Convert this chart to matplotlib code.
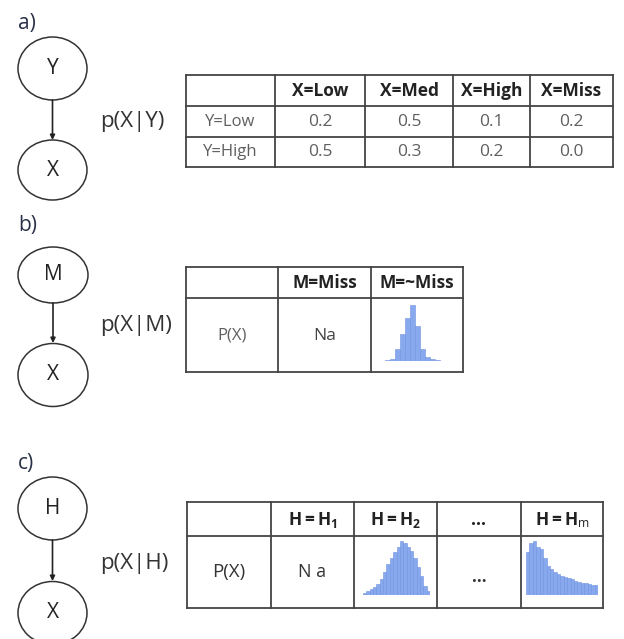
import matplotlib
matplotlib.use('Agg')
import matplotlib.pyplot as plt
from matplotlib.patches import Ellipse

plt.rcParams['font.family'] = ['Open Sans', 'DejaVu Sans']
plt.rcParams['mathtext.fontset'] = 'custom'
plt.rcParams['mathtext.rm'] = 'Open Sans'
plt.rcParams['mathtext.bf'] = 'Open Sans:bold'
plt.rcParams['mathtext.it'] = 'Open Sans:italic'

# ДАННЫЕ
panel_labels = ['a)', 'b)', 'c)']
parent_nodes = ['Y', 'M', 'H']
cond_labels = ['p(X|Y)', 'p(X|M)', 'p(X|H)']

tab_a_cols = ['X=Low', 'X=Med', 'X=High', 'X=Miss']
tab_a_rows = ['Y=Low', 'Y=High']
tab_a_vals = [[0.2, 0.5, 0.1, 0.2],
              [0.5, 0.3, 0.2, 0.0]]

tab_b_cols = ['M=Miss', 'M=~Miss']
tab_c_cols = [r'$\mathbf{H{=}H_1}$', r'$\mathbf{H{=}H_2}$', '...', r'$\mathbf{H{=}H}_\mathrm{m}$']
row_px = 'P(X)'

# гистограммы (высота столбцов, относительные единицы)
hist_m = [0.4, 0.6, 1.7, 11.7, 27, 43, 56, 35, 12, 4, 1.7, 0.8, 0.5, 0.4, 0.3, 0.3]
hist_h2 = [1.7, 3.7, 6, 8.3, 11, 16, 22.7, 31, 37, 42.7, 48.3, 53.7, 51.7, 48.3,
           44.3, 37, 27.7, 19.3, 9.3, 3.7]
hist_hm = [42.7, 51.7, 54.3, 47.7, 46, 37, 29.3, 26, 22.7, 21, 19.3, 18.3, 17,
           15.7, 14.3, 13.3, 12.3, 11.7, 11, 10.3, 10]

W, H = 624, 639
line_c = '#444444'
text_c = '#222222'
gray_c = '#5f5f5f'
bar_c = '#88a9ee'
bar_e = '#6f92df'

fig = plt.figure(figsize=(W / 100, H / 100), dpi=100)
ax = fig.add_axes([0, 0, 1, 1])
ax.set_xlim(0, W)
ax.set_ylim(H, 0)
ax.axis('off')


def node(x, y, w, h, label):
    ax.add_patch(Ellipse((x, y), w, h, fill=False, edgecolor='#333333', lw=1.1))
    ax.text(x, y, label, ha='center', va='center', fontsize=15, color=text_c)


def arrow(x, y0, y1):
    ax.annotate('', xy=(x, y1), xytext=(x, y0),
                arrowprops=dict(arrowstyle='-|>', color='#222222', lw=1.2,
                                mutation_scale=7, shrinkA=0, shrinkB=0))


def grid(xs, ys):
    for x in xs:
        ax.plot([x, x], [ys[0], ys[-1]], color=line_c, lw=1.3, solid_capstyle='projecting')
    for y in ys:
        ax.plot([xs[0], xs[-1]], [y, y], color=line_c, lw=1.3, solid_capstyle='projecting')


def hist_inset(vals, left, base, width):
    top = max(vals)
    ah = fig.add_axes([left / W, (H - base) / H, width / W, top / H])
    ah.bar(range(len(vals)), vals, width=1.0, color=bar_c, edgecolor=bar_e, linewidth=0.4)
    ah.set_xlim(-0.5, len(vals) - 0.5)
    ah.set_ylim(0, top)
    ah.axis('off')


# ПОДПИСИ ПАНЕЛЕЙ
for lab, y in zip(panel_labels, [23, 226, 464]):
    ax.text(18, y, lab, ha='left', va='center', fontsize=15, color='#283048')

# ГРАФЫ
node(52.5, 68.5, 69, 63, parent_nodes[0])
node(52.5, 170, 69, 60, 'X')
arrow(52.5, 100, 140)

node(53, 275, 70, 56, parent_nodes[1])
node(53, 375, 70, 63, 'X')
arrow(53, 303, 343)

node(52.5, 508.5, 69, 63, parent_nodes[2])
node(52.5, 613, 69, 63, 'X')
arrow(52.5, 540, 581)

for lab, y in zip(cond_labels, [122, 326, 564]):
    ax.text(100, y, lab, ha='left', va='center', fontsize=16, color='#333333')

# ТАБЛИЦА a
xa = [186, 275, 365, 453, 530, 613]
ya = [75, 106, 137, 167]
grid(xa, ya)
for j, c in enumerate(tab_a_cols):
    ax.text((xa[j + 1] + xa[j + 2]) / 2, (ya[0] + ya[1]) / 2, c, ha='center', va='center',
            fontsize=12.5, fontweight='bold', color=text_c)
for i, r in enumerate(tab_a_rows):
    yc = (ya[i + 1] + ya[i + 2]) / 2
    ax.text((xa[0] + xa[1]) / 2, yc, r, ha='center', va='center', fontsize=12, color=gray_c)
    for j, v in enumerate(tab_a_vals[i]):
        ax.text((xa[j + 1] + xa[j + 2]) / 2, yc, f'{v:.1f}', ha='center', va='center',
                fontsize=12.5, color=gray_c)

# ТАБЛИЦА b
xb = [186, 278, 371, 463]
yb = [267, 298, 372]
grid(xb, yb)
for j, c in enumerate(tab_b_cols):
    ax.text((xb[j + 1] + xb[j + 2]) / 2, (yb[0] + yb[1]) / 2, c, ha='center', va='center',
            fontsize=12.5, fontweight='bold', color=text_c)
ax.text((xb[0] + xb[1]) / 2, 336, row_px, ha='center', va='center', fontsize=12, color=gray_c)
ax.text((xb[1] + xb[2]) / 2, 336, 'Na', ha='center', va='center', fontsize=12.5, color='#444444')
hist_inset(hist_m, 380, 361, 80)

# ТАБЛИЦА c
xc = [187, 271, 354, 437, 521, 603]
yc_ = [502, 536, 608]
grid(xc, yc_)
for j, c in enumerate(tab_c_cols):
    ax.text((xc[j + 1] + xc[j + 2]) / 2, (yc_[0] + yc_[1]) / 2 + 1, c, ha='center', va='center',
            fontsize=12.5, fontweight='bold', color=text_c)
ax.text((xc[0] + xc[1]) / 2, 572, row_px, ha='center', va='center', fontsize=13.5, color='#333333')
ax.text((xc[1] + xc[2]) / 2, 572, 'N a', ha='center', va='center', fontsize=13, color='#333333')
ax.text((xc[3] + xc[4]) / 2, 577, '...', ha='center', va='center', fontsize=12,
        fontweight='bold', color='#333333')
hist_inset(hist_h2, 363, 595, 67)
hist_inset(hist_hm, 526, 595, 72)

fig.savefig('out.png', dpi=100, facecolor='white')
